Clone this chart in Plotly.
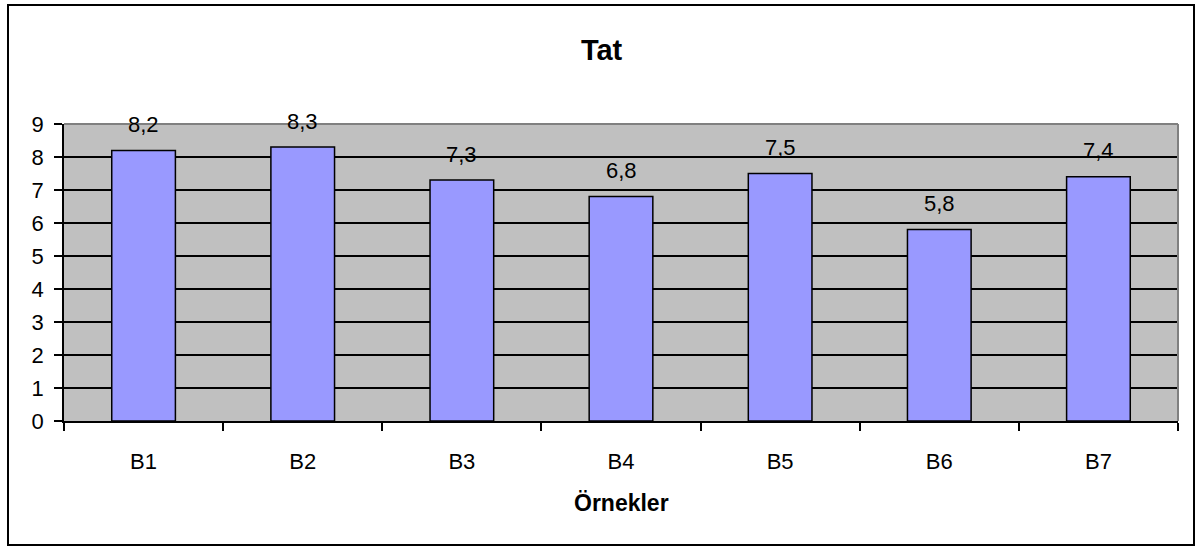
import plotly.graph_objects as go

# Tasting scores per sample
samples = ["B1", "B2", "B3", "B4", "B5", "B6", "B7"]
scores = [8.2, 8.3, 7.3, 6.8, 7.5, 5.8, 7.4]
y_ticks = list(range(0, 10))

W, H = 1196, 547
L, R, T, B = 64, 18, 124, 126
pw, ph = W - L - R, H - T - B

def px_x(x):
    return (x - L) / pw

def px_y(y):
    return (H - B - y) / ph

FONT = "Liberation Sans, Arial, sans-serif"
TXT = 22

fig = go.Figure(
    go.Bar(
        x=samples,
        y=scores,
        marker=dict(color="#9999FF", line=dict(color="#000000", width=1.5)),
        width=0.4,
        hoverinfo="x+y",
    )
)

# value labels with decimal comma
for s, v in zip(samples, scores):
    fig.add_annotation(
        x=s, y=v, text=f"{v:.1f}".replace(".", ","),
        showarrow=False, yanchor="middle", yshift=26,
        font=dict(family=FONT, size=TXT, color="#000000"),
    )

# axis caption
fig.add_annotation(
    xref="paper", yref="paper", x=0.5, y=px_y(503),
    text="<b>Örnekler</b>", showarrow=False, yanchor="middle",
    font=dict(family=FONT, size=23, color="#000000"),
)

# gray frame on the top and right of the plot area
fig.add_shape(type="line", xref="paper", yref="paper", x0=0, x1=1, y0=1, y1=1,
              line=dict(color="#808080", width=2), layer="above")
fig.add_shape(type="line", xref="paper", yref="paper", x0=1, x1=1, y0=0, y1=1,
              line=dict(color="#808080", width=2), layer="above")

# outer chart border
fig.add_shape(type="rect", xref="paper", yref="paper",
              x0=px_x(8), x1=px_x(1194), y0=px_y(545), y1=px_y(5),
              line=dict(color="#000000", width=2), layer="above")

fig.update_layout(
    width=W, height=H,
    margin=dict(l=L, r=R, t=T, b=B),
    paper_bgcolor="#FFFFFF",
    plot_bgcolor="#C0C0C0",
    showlegend=False,
    title=dict(
        text="<b>Tat</b>", x=0.503, xref="container", xanchor="center",
        y=1 - 50 / H, yref="container", yanchor="middle",
        font=dict(family=FONT, size=29, color="#000000"),
    ),
    font=dict(family=FONT, size=TXT, color="#000000"),
)

fig.update_xaxes(
    type="category", tickson="boundaries", ticks="outside", ticklen=8,
    tickcolor="#000000", tickwidth=1.5,
    showline=True, linecolor="#000000", linewidth=1.5,
    showgrid=False, ticklabelstandoff=20,
    tickfont=dict(family=FONT, size=TXT, color="#000000"),
)
fig.update_yaxes(
    range=[0, 9], tickvals=y_ticks, ticks="outside", ticklen=8,
    tickcolor="#000000", tickwidth=1.5,
    showline=True, linecolor="#000000", linewidth=1.5,
    showgrid=True, gridcolor="#000000", gridwidth=1.5,
    zeroline=False, ticklabelstandoff=6,
    tickfont=dict(family=FONT, size=TXT, color="#000000"),
)

fig.write_html("out.html")
